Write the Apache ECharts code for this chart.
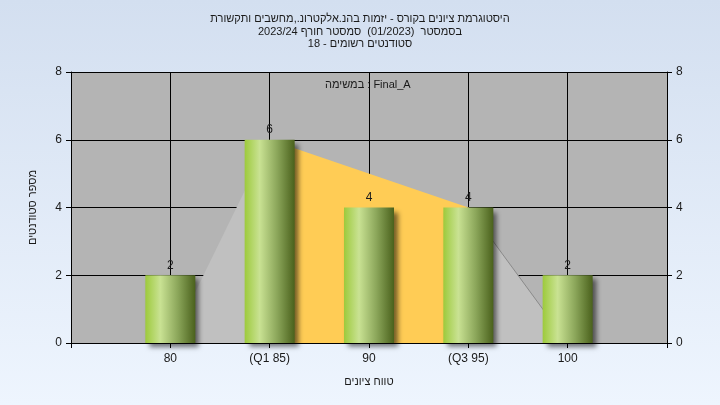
<!DOCTYPE html>
<html><head><meta charset="utf-8">
<script src="https://cdn.jsdelivr.net/npm/echarts@6/dist/echarts.min.js"></script>
<style>html,body{margin:0;padding:0;}#c{width:720px;height:405px;}</style>
</head><body><div id="c"></div>
<script>
// ---- data ----
const grades = [80, 85, 90, 95, 100];
const tickLabels = ['80', '(Q1 85)', '90', '(Q3 95)', '100'];
const counts = [2, 6, 4, 4, 2];
const lowerTail = [[80, 0], [85, 6]];
const interQuartile = [[85, 6], [95, 4]];
const upperTail = [[95, 4], [100, 0]];
const titleLines = [
  'היסטוגרמת ציונים בקורס - יזמות בהנ.אלקטרונ.,מחשבים ותקשורת',
  'בסמסטר  (01/2023)  סמסטר חורף 2023/24',
  'סטודנטים רשומים - 18'
];
const taskLabel = 'במשימה : Final_A';
const xName = 'טווח ציונים';
const yName = 'מספר סטודנטים';

const font = "'Liberation Sans', Arial, sans-serif";
const txt = '#1a1a1a';
const barData = grades.map((g, i) => [g, counts[i]]);

const chart = echarts.init(document.getElementById('c'), null, {renderer: 'canvas'});
chart.setOption({
  animation: false,
  backgroundColor: {type: 'linear', x: 0, y: 0, x2: 0, y2: 1,
    colorStops: [{offset: 0, color: '#d3dff0'}, {offset: 1, color: '#eef5fe'}]},
  textStyle: {fontFamily: font},
  title: {
    text: titleLines.join('\n'),
    left: 'center', top: 8,
    textStyle: {fontSize: 11, fontWeight: 'normal', color: txt, lineHeight: 12.5, fontFamily: font}
  },
  graphic: [{
    type: 'text', left: 325, top: 79, z: 50,
    style: {text: taskLabel, fill: txt, font: "11px 'Liberation Sans', Arial, sans-serif"}
  }],
  grid: {left: 71, right: 53, top: 72, bottom: 62, show: true, backgroundColor: '#b4b4b4', borderWidth: 0},
  xAxis: {
    type: 'value', min: 75, max: 105, interval: 5,
    name: xName, nameLocation: 'middle', nameGap: 33,
    nameTextStyle: {fontSize: 11, color: txt},
    axisLine: {show: true, lineStyle: {color: '#000', width: 1}},
    axisTick: {show: true, length: 5, lineStyle: {color: '#000'}},
    axisLabel: {fontSize: 12, color: txt, margin: 10,
      formatter: v => { const i = grades.indexOf(v); return i >= 0 ? tickLabels[i] : ''; }},
    splitLine: {show: true, lineStyle: {color: '#000', width: 1}}
  },
  yAxis: [{
    type: 'value', min: 0, max: 8, interval: 2, position: 'left',
    name: yName, nameLocation: 'middle', nameGap: 33, nameRotate: 90,
    nameTextStyle: {fontSize: 11, color: txt},
    axisLine: {show: true, lineStyle: {color: '#000'}},
    axisTick: {show: true, length: 5, lineStyle: {color: '#000'}},
    axisLabel: {fontSize: 12, color: txt, margin: 9},
    splitLine: {show: true, lineStyle: {color: '#000', width: 1}}
  }, {
    type: 'value', min: 0, max: 8, interval: 2, position: 'right',
    axisLine: {show: true, lineStyle: {color: '#000'}},
    axisTick: {show: true, length: 5, lineStyle: {color: '#000'}},
    axisLabel: {fontSize: 12, color: txt, margin: 9},
    splitLine: {show: false}
  }],
  series: [
    {type: 'line', data: lowerTail, symbol: 'none', lineStyle: {width: 0},
     areaStyle: {color: '#c0c0c0', opacity: 1}, z: 2},
    {type: 'line', data: interQuartile, symbol: 'none', lineStyle: {width: 0},
     areaStyle: {color: '#ffcc55', opacity: 1}, z: 2},
    {type: 'line', data: upperTail, symbol: 'none', lineStyle: {width: 1, color: '#8a8a8a'},
     areaStyle: {color: '#c0c0c0', opacity: 1}, z: 2},
    {type: 'bar', data: barData, barWidth: 50, z: 5,
     itemStyle: {
       color: {type: 'linear', x: 0, y: 0, x2: 1, y2: 0, colorStops: [
         {offset: 0, color: '#9dca3c'}, {offset: 0.3, color: '#c9e293'},
         {offset: 0.65, color: '#8ba65a'}, {offset: 1, color: '#4a611c'}]},
       shadowColor: 'rgba(0,0,0,0.55)', shadowBlur: 5, shadowOffsetX: 4, shadowOffsetY: 4
     },
     label: {show: true, position: 'top', distance: 4, fontSize: 12, color: txt, fontFamily: font}}
  ]
});
</script></body></html>
